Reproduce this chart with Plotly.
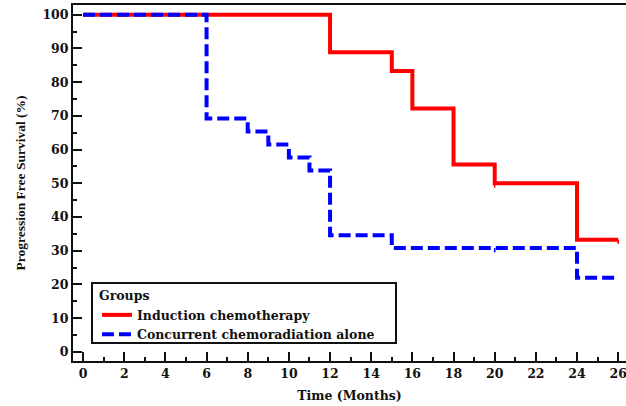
import plotly.graph_objects as go

# Data: Kaplan-Meier step values
red_times = [0, 12, 15, 16, 18, 20, 24, 26]
red_surv = [100, 88.9, 83.3, 72.2, 55.6, 50.0, 33.3, 33.3]
red_censor = [20, 26]

blue_times = [0, 6, 8, 9, 10, 11, 12, 15, 24, 26]
blue_surv = [100, 69.2, 65.4, 61.5, 57.7, 53.8, 34.6, 30.8, 22.0, 22.0]
blue_censor = [20]

x_ticks = list(range(0, 27, 2))
y_ticks = list(range(0, 101, 10))

FONT = "DejaVu Serif"


def surv_at(times, surv, t):
    v = surv[0]
    for ti, si in zip(times, surv):
        if ti <= t:
            v = si
    return v


def censor_xy(times, surv, cens, drop=1.3):
    xs, ys = [], []
    for c in cens:
        v = surv_at(times, surv, c)
        xs += [c, c, None]
        ys += [v, v - drop, None]
    return xs, ys


fig = go.Figure()
fig.add_trace(go.Scatter(
    x=red_times, y=red_surv, mode="lines", line_shape="hv",
    line=dict(color="#ff0000", width=4), name="Induction chemotherapy"))
fig.add_trace(go.Scatter(
    x=blue_times, y=blue_surv, mode="lines", line_shape="hv",
    line=dict(color="#0000ff", width=4, dash="12px,5px"),
    name="Concurrent chemoradiation alone"))

cx, cy = censor_xy(red_times, red_surv, red_censor)
fig.add_trace(go.Scatter(x=cx, y=cy, mode="lines", line=dict(color="#ff0000", width=1.5),
                         showlegend=False, hoverinfo="skip"))
cx, cy = censor_xy(blue_times, blue_surv, blue_censor)
fig.add_trace(go.Scatter(x=cx, y=cy, mode="lines", line=dict(color="#0000ff", width=1.5),
                         showlegend=False, hoverinfo="skip"))

# legend frame (drawn as a shape so it can be wider than the text)
fig.add_shape(type="rect", xref="paper", yref="paper",
              x0=(92 - 73) / 553, x1=(396 - 73) / 553,
              y0=(361 - 343) / 356, y1=(361 - 283) / 356,
              line=dict(color="#111111", width=2), fillcolor="white", layer="above")

fig.update_layout(
    width=626, height=406,
    margin=dict(l=73, r=0, t=5, b=45, autoexpand=False),
    paper_bgcolor="white", plot_bgcolor="white",
    font=dict(family=FONT, size=12, color="#111111", weight="bold"),
    showlegend=True,
    legend=dict(
        title=dict(text="Groups", font=dict(family=FONT, size=12.5, weight="bold")),
        font=dict(family=FONT, size=12.5, weight="bold"),
        x=(97 - 73) / 553, y=(361 - 284) / 356, xanchor="left", yanchor="top",
        borderwidth=0, bgcolor="rgba(0,0,0,0)",
        itemwidth=30, tracegroupgap=0,
    ),
    xaxis=dict(
        range=[-0.49, 26.38], tickvals=x_ticks, ticktext=[str(v) for v in x_ticks],
        ticks="inside", ticklen=9, tickwidth=2, tickcolor="#111111",
        minor=dict(dtick=1, tick0=0, ticks="inside", ticklen=4, tickwidth=1.5, tickcolor="#111111"),
        showline=True, linewidth=2, linecolor="#111111", mirror=True,
        showgrid=False, zeroline=False, automargin=False, ticklabeloverflow="allow",
        tickfont=dict(family=FONT, size=12.5, weight="bold"),
        title=dict(text="Time (Months)", font=dict(family=FONT, size=12.5, weight="bold"), standoff=11),
    ),
    yaxis=dict(
        range=[-2.7, 102.9], tickvals=y_ticks, ticktext=[str(v) for v in y_ticks],
        ticks="inside", ticklen=9, tickwidth=2, tickcolor="#111111",
        minor=dict(dtick=5, tick0=0, ticks="inside", ticklen=4, tickwidth=1.5, tickcolor="#111111"),
        showline=True, linewidth=2, linecolor="#111111",
        showgrid=False, zeroline=False, automargin=False,
        tickfont=dict(family=FONT, size=12.5, weight="bold"),
        title=dict(text="Progression Free Survival (%)",
                   font=dict(family="Liberation Serif", size=13.5, weight="bold"), standoff=14),
    ),
)

fig.write_html("out.html", config={"displayModeBar": False},
               post_script="document.body.style.margin='0';")
